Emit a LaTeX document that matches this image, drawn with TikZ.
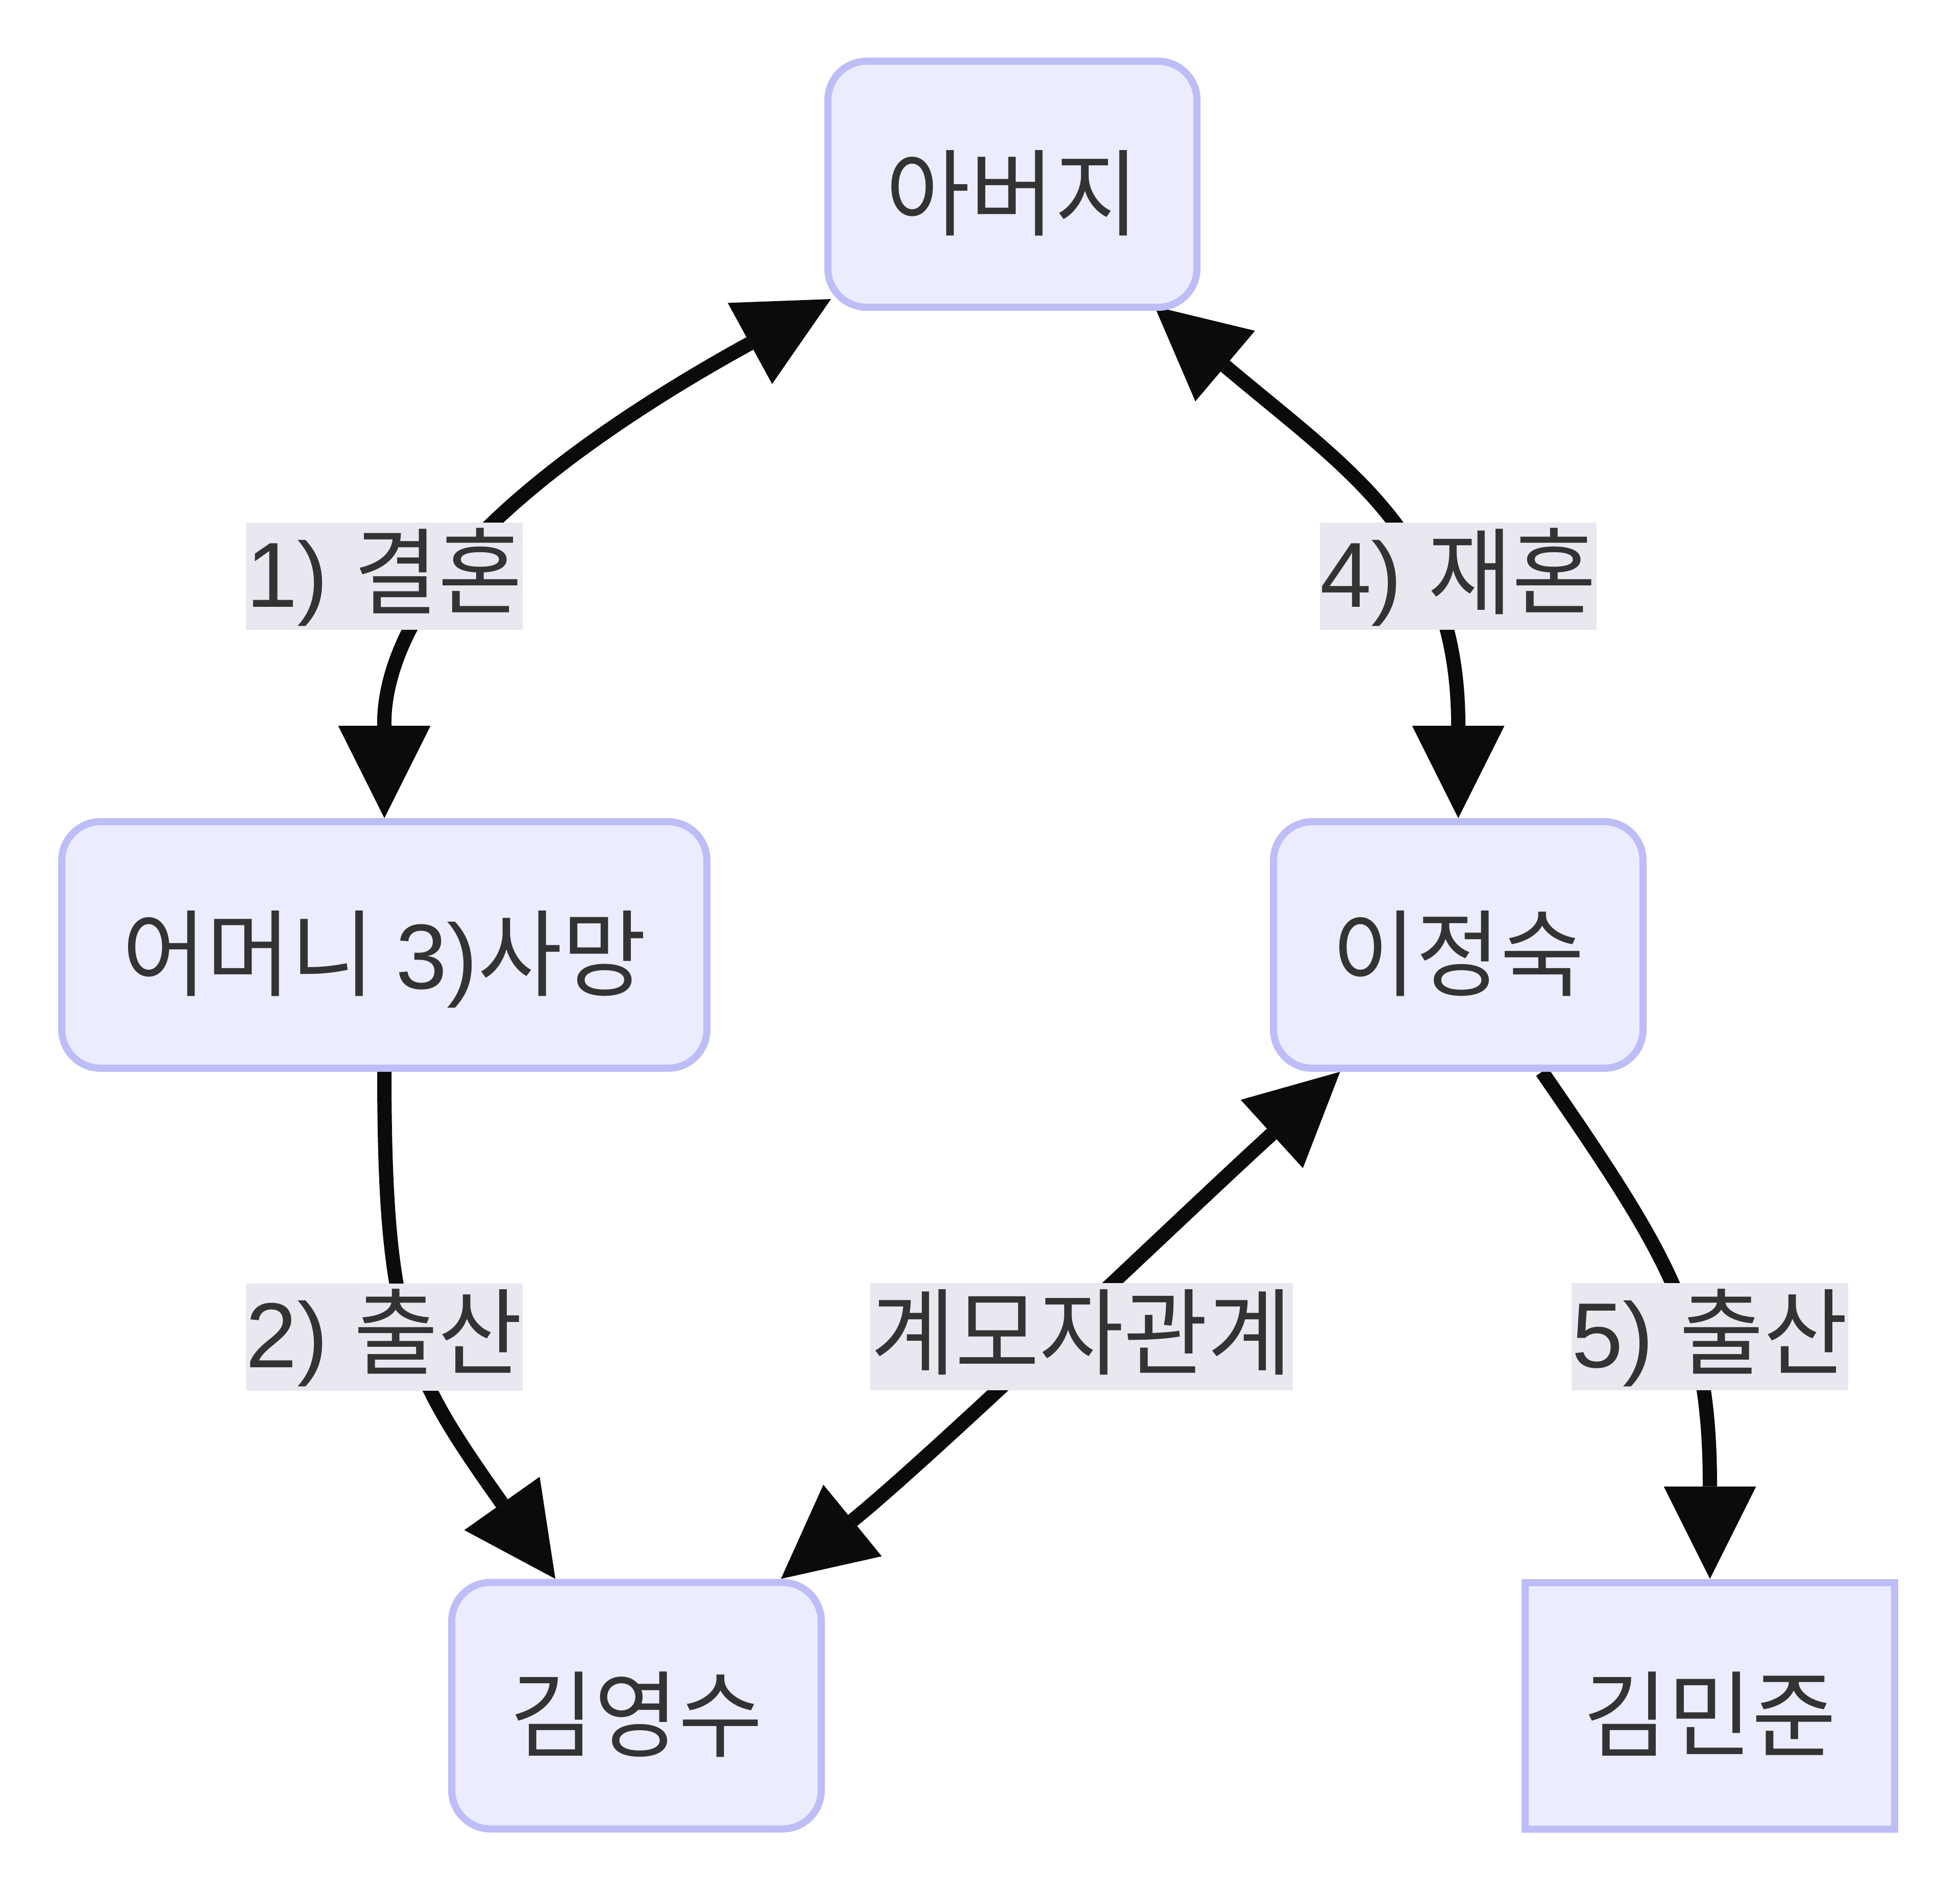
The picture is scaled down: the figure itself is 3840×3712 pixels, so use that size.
\documentclass[tikz,border=0pt]{standalone}
\usepackage{fontspec}
\setmainfont{Liberation Sans}
\newfontfamily\krfont{Noto Sans CJK KR}[FakeStretch=0.97]
\usetikzlibrary{arrows.meta,calc}
\definecolor{nodefill}{RGB}{236,236,255}
\definecolor{nodeline}{RGB}{189,189,247}
\definecolor{labelbg}{RGB}{232,232,240}
\definecolor{txt}{RGB}{51,51,51}
\definecolor{edgec}{RGB}{11,11,11}
\newcommand{\latn}[1]{{\rmfamily\fontsize{181pt}{200pt}\selectfont #1}}
\pgfdeclarelayer{paper}
\pgfdeclarelayer{edges}
\pgfsetlayers{paper,edges,main}
\begin{document}
\begin{tikzpicture}[x=1pt,y=-1pt,
  bigfont/.style={font=\fontsize{185pt}{205pt}\krfont},
  person/.style={bigfont, draw=nodeline, fill=nodefill, line width=14pt,
    rounded corners=76pt, minimum width=724pt, minimum height=483pt,
    inner sep=0pt, text=txt, text height=200pt, text depth=28pt},
  squareperson/.style={person, sharp corners},
  lab/.style={bigfont, fill=labelbg, inner sep=0pt, text=txt,
    text height=165pt, text depth=45pt, minimum width=542pt},
  link/.style={draw=edgec, line width=28pt},
  >={Triangle[length=181pt,width=181pt,line width=0pt]}
]
\useasboundingbox (0,0) rectangle (3840,3712);
\begin{pgfonlayer}{paper}
  \fill[white] (0,0) rectangle (3840,3712);
\end{pgfonlayer}

% nodes
\node[person, minimum width=723pt, minimum height=482pt] (father) at (1983.5,361) {아버지};
\node[person, minimum width=1264pt] (mother) at (753,1851.5) {어머니 \latn{3)}사망};
\node[person] (jeong) at (2857,1851.5) {이정숙};
\node[person] (young) at (1247,3342) {김영수};
\node[squareperson] (minjun) at (3350,3342) {김민준};

% edges
\begin{pgfonlayer}{edges}
  \draw[link,<->] ([shift={(13,-23)}]father.south west)
     .. controls (1321,754) and (1023.3,931.5) .. (870,1129)
     .. controls (747.4,1287) and (753,1403.6) .. (mother.north);
  \draw[link,->] (mother.south)
     .. controls (753,2600) and (799,2685) .. ([xshift=-159pt]young.north);
  \draw[link,<->] ([xshift=137.5pt]jeong.south west)
     .. controls (2330,2369) and (1840.4,2840.6) .. ([xshift=-86pt]young.north east);
  \draw[link,<->] ([shift={(-90,-8.5)}]father.south east)
     .. controls (2644,923) and (2857,1052.7) .. (jeong.north);
  \draw[link,->] ([xshift=164pt]jeong.south)
     .. controls (3276.6,2470.4) and (3350,2594) .. (minjun.north);
\end{pgfonlayer}

% edge labels
\node[lab] (l1) at (752.8,1129) {\latn{1) }결혼};
\node[lab] (l2) at (752.5,2619.5) {\latn{2) }출산};
\node[lab] (l4) at (2857,1129) {\latn{4) }재혼};
\node[lab] (l5) at (3350,2619) {\latn{5) }출산};
\node[lab, minimum width=828pt] (l3) at (2119,2619) {계모자관계};
\end{tikzpicture}
\end{document}
